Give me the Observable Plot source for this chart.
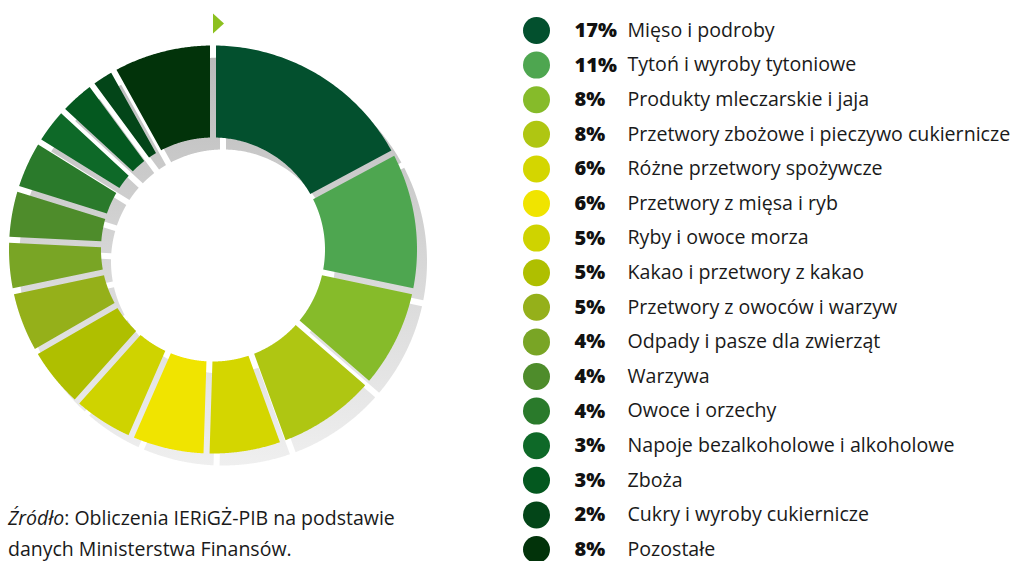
<!DOCTYPE html>
<html><head><meta charset="utf-8">
<script src="https://cdn.jsdelivr.net/npm/d3@7"></script>
<script src="https://cdn.jsdelivr.net/npm/@observablehq/plot@0.6"></script>
<style>
body{margin:0;background:#fff;width:1015px;height:561px;overflow:hidden;position:relative;font-family:"Open Sans",sans-serif;}
#donut{position:absolute;left:0;top:0}
#legend{position:absolute;left:510px;top:0}
#caption{position:absolute;left:8px;top:502px;font-size:19.5px;line-height:31px;color:#1a1a1a;white-space:nowrap}
</style></head><body>
<div id="donut"></div><div id="legend"></div>
<div id="caption"><i>Źródło</i>: Obliczenia IERiGŻ-PIB na podstawie<br>danych Ministerstwa Finansów.</div>
<script>
const categories = [
  "Mięso i podroby",
  "Tytoń i wyroby tytoniowe",
  "Produkty mleczarskie i jaja",
  "Przetwory zbożowe i pieczywo cukiernicze",
  "Różne przetwory spożywcze",
  "Przetwory z mięsa i ryb",
  "Ryby i owoce morza",
  "Kakao i przetwory z kakao",
  "Przetwory z owoców i warzyw",
  "Odpady i pasze dla zwierząt",
  "Warzywa",
  "Owoce i orzechy",
  "Napoje bezalkoholowe i alkoholowe",
  "Zboża",
  "Cukry i wyroby cukiernicze",
  "Pozostałe"
];
const shares = [17, 11, 8, 8, 6, 6, 5, 5, 5, 4, 4, 4, 3, 3, 2, 8];
const colors = [
  "#03502e", "#4ea650", "#86bb2a", "#afc612", "#d4d600", "#f0e400", "#cfd300", "#afbf00",
  "#95b01a", "#79a525", "#4e8c2b", "#2a7a2b", "#0e6928", "#04581f", "#034518", "#02330a"
];
const pctLabels = shares.map(s => s + "%");

// ---- donut geometry (layout constants) ----
const W = 470, H = 561, cx = 212.5, cy = 249, R = 204, r0 = 112, gap = 6;
const sdx = 10, sdy = 12;
const total = d3.sum(shares);

function slicePoints(i, a0, a1, ox, oy, key) {
  const out = [];
  const N = 80;
  const po = Math.asin(gap / 2 / R), pi = Math.asin(gap / 2 / r0);
  for (let k = 0; k <= N; k++) {
    const a = (a0 + po) + ((a1 - po) - (a0 + po)) * k / N;
    out.push({key, cat: categories[i], color: colors[i], x: cx + ox + Math.sin(a) * R, y: cy + oy - Math.cos(a) * R});
  }
  for (let k = N; k >= 0; k--) {
    const a = (a0 + pi) + ((a1 - pi) - (a0 + pi)) * k / N;
    out.push({key, cat: categories[i], color: colors[i], x: cx + ox + Math.sin(a) * r0, y: cy + oy - Math.cos(a) * r0});
  }
  return out;
}
const slices = [], shadows = [];
let acc = 0;
shares.forEach((v, i) => {
  const a0 = acc / total * 2 * Math.PI, a1 = (acc + v) / total * 2 * Math.PI;
  acc += v;
  slices.push(...slicePoints(i, a0, a1, 0, 0, "s" + i));
  shadows.push(...slicePoints(i, a0, a1, sdx, sdy, "h" + i));
});

const flag = {draw(ctx) { ctx.moveTo(-5.5, -10); ctx.lineTo(5.5, 0); ctx.lineTo(-5.5, 10); ctx.closePath(); }};

const donut = Plot.plot({
  width: W, height: H, margin: 0,
  x: {type: "linear", domain: [0, W], range: [0, W], axis: null},
  y: {type: "linear", domain: [0, H], range: [0, H], axis: null},
  color: {type: "identity"},
  marks: [
    Plot.line(shadows, {x: "x", y: "y", z: "key", fill: "url(#sg)", stroke: "none", curve: "linear-closed"}),
    Plot.line(slices, {x: "x", y: "y", z: "key", fill: "color", stroke: "none", curve: "linear-closed"}),
    Plot.dot([0], {x: () => cx + 5.5, y: () => cy - R - 22, symbol: flag, fill: "#8cc01f", stroke: "none", r: 10})
  ]
});
const ns = "http://www.w3.org/2000/svg";
const defs = document.createElementNS(ns, "defs");
defs.innerHTML = `<linearGradient id="sg" gradientUnits="userSpaceOnUse" x1="0" y1="${cy - R}" x2="0" y2="${cy + R + sdy}"><stop offset="0" stop-color="#b9b9b9"/><stop offset="0.5" stop-color="#d6d6d6"/><stop offset="1" stop-color="#efefef"/></linearGradient>`;
donut.prepend(defs);
document.getElementById("donut").append(donut);

// ---- legend ----
const rows = categories.map((c, i) => ({cat: c, color: colors[i], pct: pctLabels[i]}));
const legend = Plot.plot({
  width: 505, height: 561, margin: 0,
  x: {type: "linear", domain: [0, 505], range: [0, 505], axis: null},
  y: {type: "point", domain: categories, range: [30, 549], padding: 0, round: false, axis: null},
  color: {type: "identity"},
  style: {fontFamily: "'Open Sans', sans-serif"},
  marks: [
    Plot.dot(rows, {x: () => 26, y: "cat", r: 13.5, fill: "color", stroke: "none"}),
    Plot.text(rows, {x: () => 64, y: "cat", text: "pct", textAnchor: "start", fontSize: 20, fontWeight: 800, fill: "#111"}),
    Plot.text(rows, {x: () => 117, y: "cat", text: "cat", textAnchor: "start", fontSize: 19.6, fill: "#1a1a1a"})
  ]
});
document.getElementById("legend").append(legend);
</script>
</body></html>
